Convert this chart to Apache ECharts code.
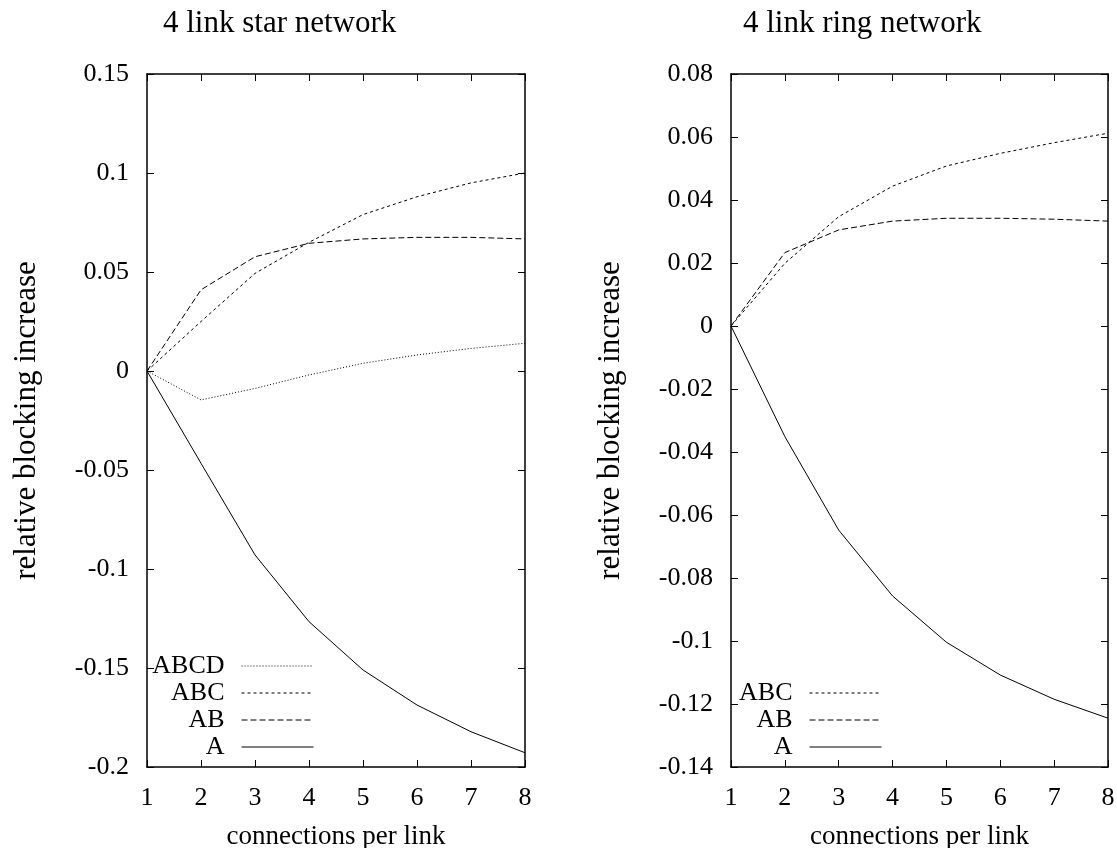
<!DOCTYPE html>
<html>
<head>
<meta charset="utf-8">
<script src="https://cdn.jsdelivr.net/npm/echarts@6/dist/echarts.min.js"></script>
<style>
html,body{margin:0;padding:0;background:#fff;}
#chart{width:1117px;height:848px;}
</style>
</head>
<body>
<div id="chart"></div>
<script>
// ---- data ----
const connections = [1, 2, 3, 4, 5, 6, 7, 8];

// 4 link star network
const starABCD = [0, -0.0146, -0.0088, -0.0020, 0.0039, 0.0081, 0.0114, 0.0140];
const starABC  = [0, 0.0250, 0.0493, 0.0650, 0.0790, 0.0880, 0.0950, 0.1000];
const starAB   = [0, 0.0410, 0.0577, 0.0645, 0.0667, 0.0675, 0.0675, 0.0667];
const starA    = [0, -0.0466, -0.0929, -0.1266, -0.1510, -0.1687, -0.1822, -0.1928];

// 4 link ring network
const ringABC = [0, 0.0199, 0.0347, 0.0444, 0.0508, 0.0548, 0.0582, 0.0612];
const ringAB  = [0, 0.0233, 0.0305, 0.0333, 0.0342, 0.0342, 0.0339, 0.0333];
const ringA   = [0, -0.0351, -0.0648, -0.0857, -0.1004, -0.1108, -0.1185, -0.1245];

const xTickLabels = ['1', '2', '3', '4', '5', '6', '7', '8'];
const starYTickLabels = ['-0.2', '-0.15', '-0.1', '-0.05', '0', '0.05', '0.1', '0.15'];
const ringYTickLabels = ['-0.14', '-0.12', '-0.1', '-0.08', '-0.06', '-0.04', '-0.02', '0', '0.02', '0.04', '0.06', '0.08'];

const titles = ['4 link star network', '4 link ring network'];
const xName = 'connections per link';
const yName = 'relative blocking increase';

// ---- styling ----
const FONT = 'Liberation Serif, Times New Roman, serif';
const FS = 26;
const W = 1117;
const grids = [
  { left: 147, right: W - 525, top: 74, bottom: 81, containLabel: false, outerBoundsMode: 'none' },
  { left: 731, right: W - 1108, top: 74, bottom: 81, containLabel: false, outerBoundsMode: 'none' }
];
const axisLine = { show: true, onZero: false, lineStyle: { color: '#000', width: 1.5 } };
const tickIn = { show: true, inside: true, length: 7, lineStyle: { color: '#000', width: 1 } };

function pairs(ys) { return connections.map((x, i) => [x, ys[i]]); }
function labelFrom(list, min, step) {
  return function (v) {
    const idx = Math.round((v - min) / step);
    return list[idx] !== undefined ? list[idx] : '';
  };
}

const xAxes = [], yAxes = [];
[0, 1].forEach(g => {
  xAxes.push({
    type: 'value', gridIndex: g, min: 1, max: 8, interval: 1, position: 'bottom',
    axisLine, axisTick: tickIn, splitLine: { show: false },
    axisLabel: { color: '#000', fontFamily: FONT, fontSize: FS, margin: 18, formatter: labelFrom(xTickLabels, 1, 1) },
    name: xName, nameLocation: 'middle', nameGap: 56,
    nameTextStyle: { color: '#000', fontFamily: FONT, fontSize: 27 }
  });
  xAxes.push({
    type: 'value', gridIndex: g, min: 1, max: 8, interval: 1, position: 'top',
    axisLine, axisTick: tickIn, splitLine: { show: false }, axisLabel: { show: false }
  });
});
const yDefs = [
  { min: -0.2, max: 0.15, interval: 0.05, labels: starYTickLabels },
  { min: -0.14, max: 0.08, interval: 0.02, labels: ringYTickLabels }
];
yDefs.forEach((d, g) => {
  yAxes.push({
    type: 'value', gridIndex: g, min: d.min, max: d.max, interval: d.interval, position: 'left',
    axisLine, axisTick: tickIn, splitLine: { show: false },
    axisLabel: { color: '#000', fontFamily: FONT, fontSize: FS, margin: 18, formatter: labelFrom(d.labels, d.min, d.interval) },
    name: yName, nameLocation: 'middle', nameGap: 105,
    nameTextStyle: { color: '#000', fontFamily: FONT, fontSize: 31 }
  });
  yAxes.push({
    type: 'value', gridIndex: g, min: d.min, max: d.max, interval: d.interval, position: 'right',
    axisLine, axisTick: tickIn, splitLine: { show: false }, axisLabel: { show: false }
  });
});

function lineSeries(name, ys, g, dash) {
  return {
    name, type: 'line', xAxisIndex: g * 2, yAxisIndex: g * 2, data: pairs(ys),
    symbol: 'none', silent: true, animation: false,
    lineStyle: { color: '#000', width: 1, type: dash },
    itemStyle: { color: '#000' }
  };
}
const DOT = [1, 2], SHORT = [3, 3], LONG = [6, 3];
const series = [
  lineSeries('ABCD', starABCD, 0, DOT),
  lineSeries('ABC', starABC, 0, SHORT),
  lineSeries('AB', starAB, 0, LONG),
  lineSeries('A', starA, 0, 'solid'),
  lineSeries('ABC', ringABC, 1, SHORT),
  lineSeries('AB', ringAB, 1, LONG),
  lineSeries('A', ringA, 1, 'solid')
];

function legendItem(name, rightEdge, cy) {
  return {
    data: [name], orient: 'vertical', align: 'right', selectedMode: false,
    right: W - rightEdge, top: cy - 13, padding: 0,
    itemWidth: 72, itemHeight: 26,
    itemStyle: { opacity: 0 },
    lineStyle: { width: 1 },
    textStyle: { color: '#000', fontFamily: FONT, fontSize: FS, padding: [0, 12, 0, 0] }
  };
}
const legends = [
  legendItem('ABCD', 314, 666),
  legendItem('ABC', 314, 693),
  legendItem('AB', 314, 720),
  legendItem('A', 314, 747),
  legendItem('ABC', 882, 693),
  legendItem('AB', 882, 720),
  legendItem('A', 882, 747)
];

const titleStyle = { color: '#000', fontFamily: FONT, fontSize: 31, fontWeight: 'normal' };
const option = {
  backgroundColor: '#fff',
  animation: false,
  title: [
    { text: titles[0], left: 163, top: 8, padding: 0, textStyle: titleStyle },
    { text: titles[1], left: 743, top: 8, padding: 0, textStyle: titleStyle }
  ],
  grid: grids,
  xAxis: xAxes,
  yAxis: yAxes,
  legend: legends,
  series
};

const chart = echarts.init(document.getElementById('chart'));
chart.setOption(option);
</script>
</body>
</html>
